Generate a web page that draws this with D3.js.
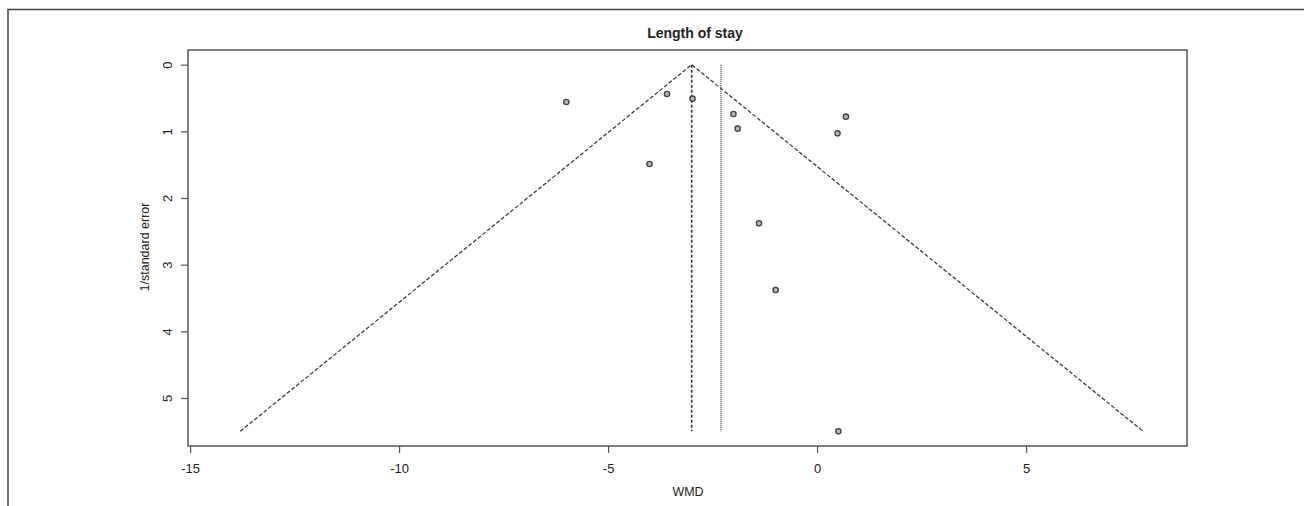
<!DOCTYPE html>
<html>
<head>
<meta charset="utf-8">
<script src="https://cdn.jsdelivr.net/npm/d3@7"></script>
<style>
  body { margin: 0; background: #fff; }
  text { font-family: "Liberation Sans", Arial, sans-serif; fill: #222; }
</style>
</head>
<body>
<script>
// study estimates: WMD and 1/standard error
var wmd = [-6.0, -3.59, -2.98, -2.0, -1.9, -4.01, 0.69, 0.49, -1.39, -0.99, 0.51];
var precision = [0.56, 0.44, 0.51, 0.74, 0.96, 1.49, 0.78, 1.03, 2.38, 3.38, 5.5];
var pooled = -3.0;      // dashed vertical line
var altPooled = -2.3;   // dotted vertical line
var funnelEnds = [-13.8, 7.8];
var funnelDepth = 5.5;
var xTicks = [-15, -10, -5, 0, 5];
var yTicks = [0, 1, 2, 3, 4, 5];

function makeplot() {
    var width = 1304, height = 506;
    var svg = d3.select("body").append("svg")
        .attr("width", width)
        .attr("height", height);

    // outer frame (only top and left show in the crop)
    svg.append("path")
        .attr("d", "M8,506V9.5H1304")
        .attr("fill", "none")
        .attr("stroke", "#444")
        .attr("stroke-width", 1.5);

    var pl = 188, pr = 1187, pt = 50, pb = 446;
    var x = d3.scaleLinear().domain([-15.05, 8.85]).range([pl, pr]);
    var y = d3.scaleLinear().domain([-0.22, 5.72]).range([pt, pb]);
    var fmt = function (d) { return String(d); };   // plain hyphen minus like R

    svg.append("rect")
        .attr("x", pl).attr("y", pt)
        .attr("width", pr - pl).attr("height", pb - pt)
        .attr("fill", "none")
        .attr("stroke", "#555")
        .attr("stroke-width", 1.5);

    // x axis
    var xa = svg.append("g").attr("transform", "translate(0," + pb + ")")
        .call(d3.axisBottom(x).tickValues(xTicks).tickSize(7).tickPadding(11).tickFormat(fmt));
    xa.select(".domain").remove();
    xa.selectAll("line").attr("stroke", "#555").attr("stroke-width", 1.2);
    xa.selectAll("text").style("font-size", "13px").attr("fill", "#222");

    // y axis, labels rotated like R
    var ya = svg.append("g").attr("transform", "translate(" + pl + ",0)")
        .call(d3.axisLeft(y).tickValues(yTicks).tickSize(7).tickFormat(fmt));
    ya.select(".domain").remove();
    ya.selectAll("line").attr("stroke", "#555").attr("stroke-width", 1.2);
    ya.selectAll("text")
        .style("font-size", "13px")
        .attr("fill", "#222")
        .attr("x", 0).attr("y", 0).attr("dy", "0.35em")
        .attr("text-anchor", "middle")
        .attr("transform", "translate(-21,0) rotate(-90)");

    // funnel
    svg.append("path")
        .attr("d", "M" + x(funnelEnds[0]) + "," + y(funnelDepth) +
            "L" + x(pooled) + "," + y(0) +
            "L" + x(funnelEnds[1]) + "," + y(funnelDepth))
        .attr("fill", "none")
        .attr("stroke", "#333")
        .attr("stroke-width", 1.2)
        .attr("stroke-dasharray", "4,2");

    svg.append("line")
        .attr("x1", x(pooled)).attr("x2", x(pooled))
        .attr("y1", y(0)).attr("y2", y(funnelDepth))
        .attr("stroke", "#333")
        .attr("stroke-width", 1.6)
        .attr("stroke-dasharray", "3,2");

    svg.append("line")
        .attr("x1", x(altPooled)).attr("x2", x(altPooled))
        .attr("y1", y(0)).attr("y2", y(funnelDepth))
        .attr("stroke", "#333")
        .attr("stroke-width", 1.2)
        .attr("stroke-dasharray", "1,1");

    // study points
    svg.append("g")
        .selectAll("circle")
        .data(wmd)
        .enter()
        .append("circle")
        .attr("cx", function (d) { return x(d); })
        .attr("cy", function (d, i) { return y(precision[i]); })
        .attr("r", 2.6)
        .attr("fill", "#bbb")
        .attr("stroke", "#444")
        .attr("stroke-width", 1.4);

    svg.append("text")
        .attr("x", 695).attr("y", 38)
        .attr("text-anchor", "middle")
        .style("font-size", "14px")
        .style("font-weight", "bold")
        .text("Length of stay");

    svg.append("text")
        .attr("x", 688).attr("y", 496)
        .attr("text-anchor", "middle")
        .style("font-size", "12.5px")
        .text("WMD");

    svg.append("text")
        .attr("transform", "translate(149,247) rotate(-90)")
        .attr("text-anchor", "middle")
        .style("font-size", "12.5px")
        .text("1/standard error");
}
makeplot();
</script>
</body>
</html>
